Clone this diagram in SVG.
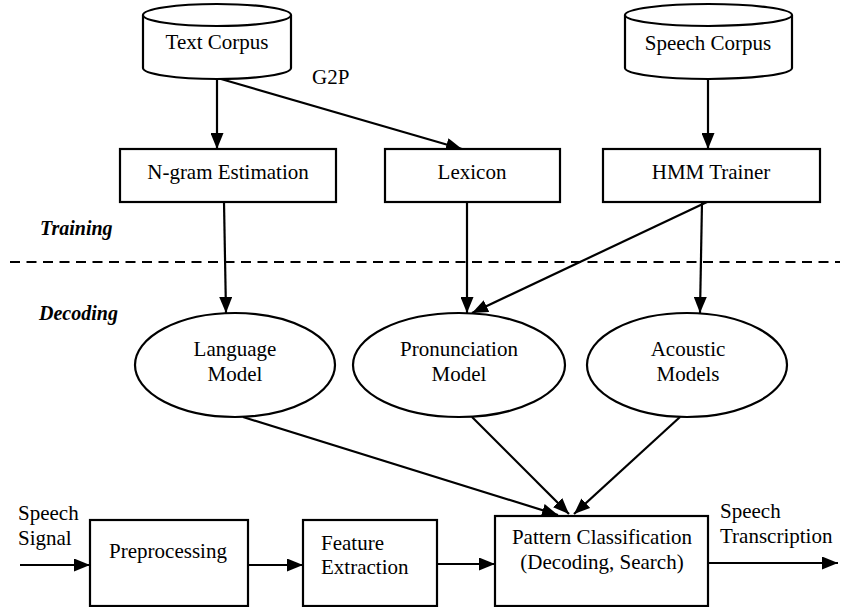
<svg xmlns="http://www.w3.org/2000/svg" width="850" height="607" viewBox="0 0 850 607">
<defs>
<marker id="ah" markerWidth="16" markerHeight="13" refX="16" refY="6.5" orient="auto" markerUnits="userSpaceOnUse">
<path d="M0,0 L16,6.5 L0,13 Z" fill="#000"/>
</marker>
<style>
.s{fill:#fff;stroke:#000;stroke-width:2.2}
text{font-family:'Liberation Serif','Times New Roman',serif;font-size:21px;fill:#000}
.c{text-anchor:middle}
.b{font-weight:bold;font-style:italic;font-size:20px}
.e{fill:none;stroke:#000;stroke-width:2.2;marker-end:url(#ah)}
</style>
</defs>
<rect width="850" height="607" fill="#fff"/>
<line x1="10" y1="262" x2="840" y2="262" stroke="#000" stroke-width="2.2" stroke-dasharray="10,6.5"/>
<text class="b" x="40" y="235">Training</text>
<text class="b" x="39" y="320">Decoding</text>
<text x="312" y="84">G2P</text>
<text x="18" y="520">Speech</text>
<text x="18" y="545">Signal</text>
<text x="720" y="518">Speech</text>
<text x="720" y="543">Transcription</text>

<g id="connectors">
<line class="e" x1="217" y1="79" x2="217" y2="149"/>
<line class="e" x1="221" y1="79" x2="462" y2="149"/>
<line class="e" x1="708" y1="79" x2="708" y2="149"/>
<line class="e" x1="224" y1="202" x2="226" y2="313"/>
<line class="e" x1="467" y1="202" x2="467" y2="313"/>
<line class="e" x1="707" y1="202" x2="472" y2="313"/>
<line class="e" x1="702" y1="202" x2="700" y2="313"/>
<line class="e" x1="243" y1="417" x2="558" y2="515"/>
<line class="e" x1="472" y1="417" x2="569" y2="514"/>
<line class="e" x1="680" y1="417" x2="574" y2="514"/>
<line class="e" x1="20" y1="565" x2="90" y2="565"/>
<line class="e" x1="248" y1="565" x2="303" y2="565"/>
<line class="e" x1="437" y1="564" x2="495" y2="564"/>
<line class="e" x1="708" y1="563" x2="838" y2="563"/>
</g>

<g id="text-corpus">
<path class="s" d="M143,15 L143,68 A74,11 0 0 0 291,68 L291,15"/>
<ellipse class="s" cx="217" cy="15" rx="74" ry="11"/>
<text class="c" x="217" y="49">Text Corpus</text>
</g>
<g id="speech-corpus">
<path class="s" d="M625,15 L625,68 A83.5,11 0 0 0 792,68 L792,15"/>
<ellipse class="s" cx="708.5" cy="15" rx="83.5" ry="11"/>
<text class="c" x="708" y="50">Speech Corpus</text>
</g>
<g id="ngram">
<rect class="s" x="120" y="149" width="216" height="53"/>
<text class="c" x="228" y="179">N-gram Estimation</text>
</g>
<g id="lexicon">
<rect class="s" x="385" y="149" width="175" height="53"/>
<text class="c" x="472" y="179">Lexicon</text>
</g>
<g id="hmm">
<rect class="s" x="603" y="149" width="217" height="53"/>
<text class="c" x="711" y="179">HMM Trainer</text>
</g>
<g id="language-model">
<ellipse class="s" cx="235" cy="365" rx="100" ry="52"/>
<text class="c" x="235" y="356">Language</text>
<text class="c" x="235" y="381">Model</text>
</g>
<g id="pronunciation-model">
<ellipse class="s" cx="459" cy="365" rx="106" ry="52"/>
<text class="c" x="459" y="356">Pronunciation</text>
<text class="c" x="459" y="381">Model</text>
</g>
<g id="acoustic-models">
<ellipse class="s" cx="687" cy="365" rx="100" ry="52"/>
<text class="c" x="688" y="356">Acoustic</text>
<text class="c" x="688" y="381">Models</text>
</g>
<g id="preprocessing">
<rect class="s" x="90" y="520" width="158" height="86"/>
<text class="c" x="168" y="558">Preprocessing</text>
</g>
<g id="feature-extraction">
<rect class="s" x="303" y="520" width="134" height="86"/>
<text x="321" y="550">Feature</text>
<text x="321" y="574">Extraction</text>
</g>
<g id="pattern-classification">
<rect class="s" x="495" y="516" width="213" height="90"/>
<text class="c" x="602" y="544">Pattern Classification</text>
<text class="c" x="602" y="569">(Decoding, Search)</text>
</g>
</svg>
